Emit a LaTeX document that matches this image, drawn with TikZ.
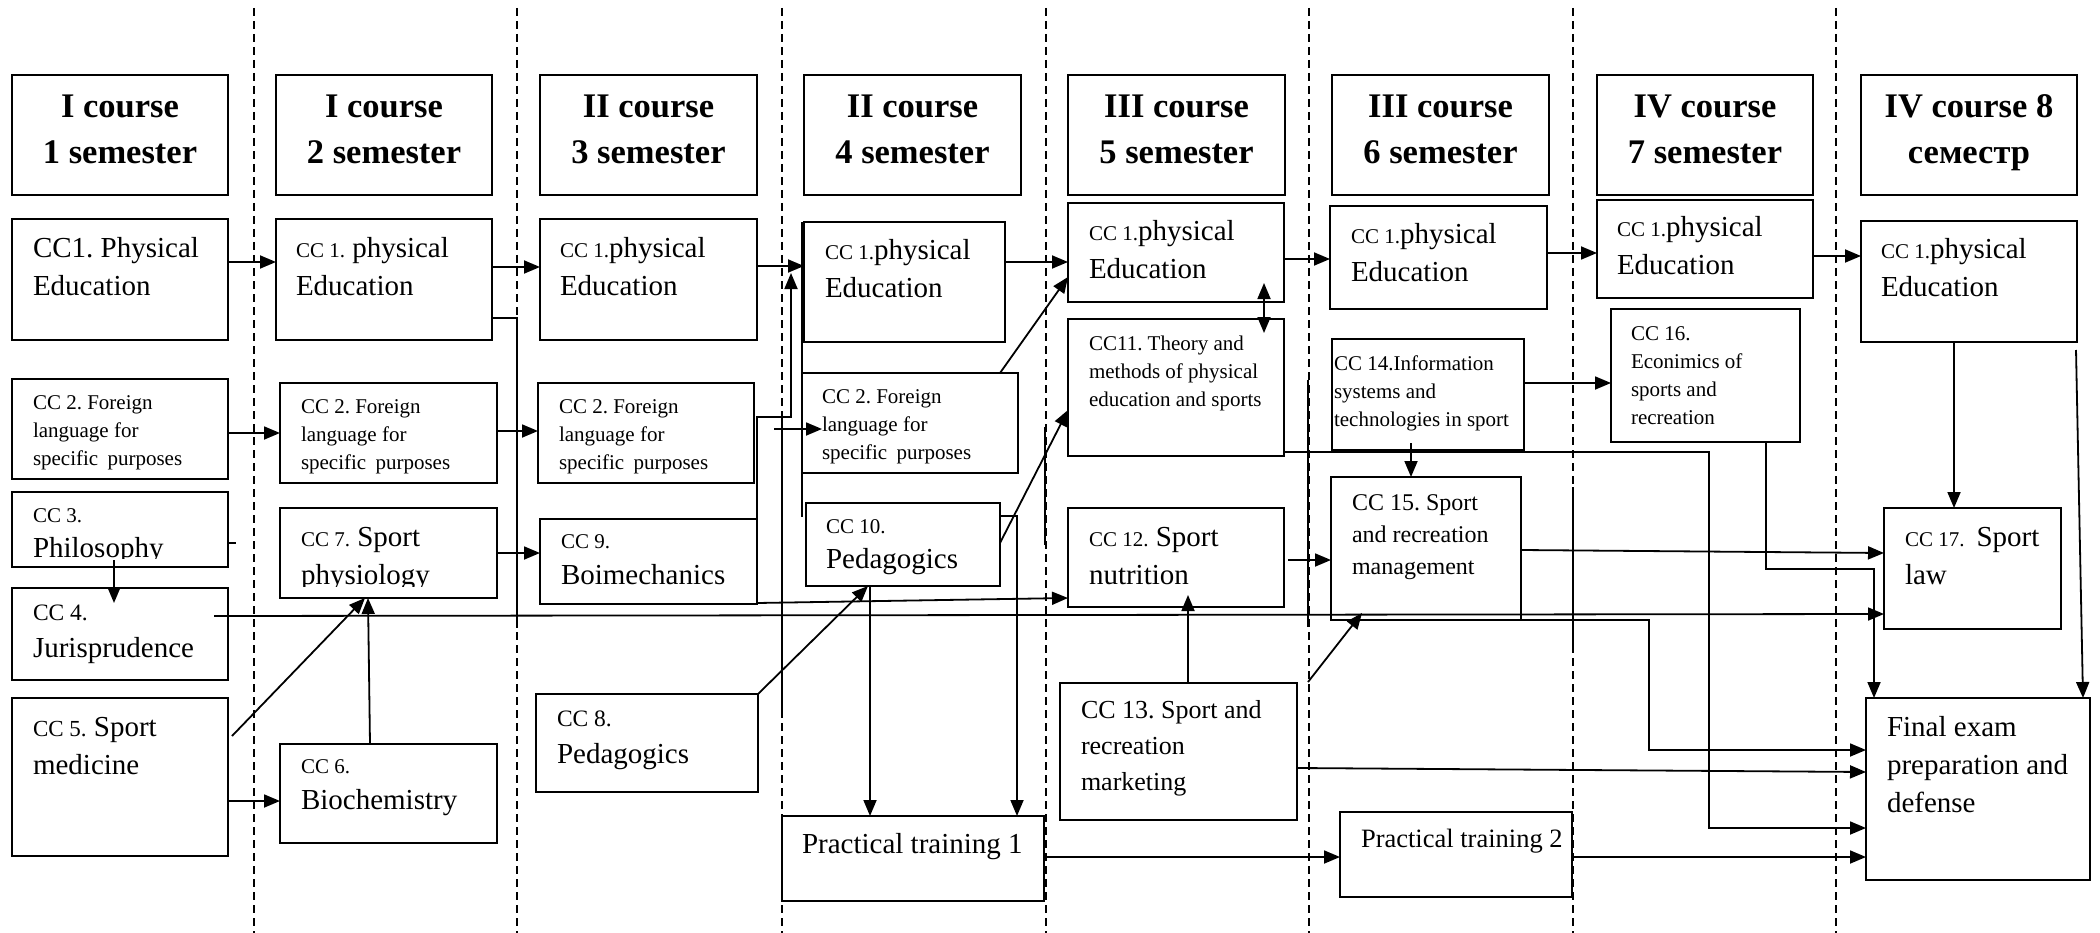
\documentclass[tikz,border=0pt]{standalone}
\usepackage{fontspec}
\setmainfont{Liberation Serif}
\usetikzlibrary{arrows.meta,calc}
\frenchspacing
\newcommand\Bf{\fontsize{29}{38}\selectfont}
\newcommand\Sf{\fontsize{21}{28}\selectfont}
\newcommand\Hf{\fontsize{34.5}{46}\selectfont\bfseries}
\newcommand\topstrut{\rule{0pt}{25pt}}
\newcommand\nodepth[1]{\raisebox{0pt}[\height][0pt]{#1}}
% box: name, x1, y1, x2, y2
\newcommand\bx[5]{\node[box, minimum width={(#4)-(#2)}, minimum height={(#5)-(#3)}] (#1) at ({((#2)+(#4))/2},{((#3)+(#5))/2}) {};}
% text: box name, inset, font, first baseline offset, text
\newcommand\tx[5]{\node[txt,font=#3] (#1t) at ($(#1.north west)+(#2,#4-25)$) {\topstrut #5};}
% header text
\newcommand\hd[3]{\node[font=\Hf,align=center,inner sep=0pt] (#1t) at ($(#1.center)+(0,-5.5)$) {#2\\\nodepth{#3}};}
\begin{document}
\frenchspacing
\begin{tikzpicture}[x=1pt,y=-1pt,
  box/.style={draw, line width=1.5pt, outer sep=0pt, inner sep=0pt},
  hbox/.style={box, line width=1.8pt},
  txt/.style={inner sep=0pt, outer sep=0pt, align=left, anchor=north west},
  con/.style={line width=1.8pt},
  arr/.style={line width=1.8pt, -{Triangle[length=16pt,width=13pt]}},
  dbl/.style={line width=1.8pt, {Triangle[length=16pt,width=13pt]}-{Triangle[length=16pt,width=13pt]}},
  sep/.style={line width=1.2pt, dash pattern=on 8pt off 5pt}]
\path[fill=white, use as bounding box] (0,0) rectangle (2100,933);

% column separators
\foreach \xx in {254,517,782,1046,1309,1573,1836} \draw[sep] (\xx,8) -- (\xx,933);

% headers
\node[hbox, minimum width=216, minimum height=120] (h1) at (120,135) {};
\node[hbox, minimum width=216, minimum height=120] (h2) at (384,135) {};
\node[hbox, minimum width=217, minimum height=120] (h3) at (648.5,135) {};
\node[hbox, minimum width=217, minimum height=120] (h4) at (912.5,135) {};
\node[hbox, minimum width=217, minimum height=120] (h5) at (1176.5,135) {};
\node[hbox, minimum width=217, minimum height=120] (h6) at (1440.5,135) {};
\node[hbox, minimum width=216, minimum height=120] (h7) at (1705,135) {};
\node[hbox, minimum width=216, minimum height=120] (h8) at (1969,135) {};
\hd{h1}{I course}{1 semester}
\hd{h2}{I course}{2 semester}
\hd{h3}{II course}{3 semester}
\hd{h4}{II course}{4 semester}
\hd{h5}{III course}{5 semester}
\hd{h6}{III course}{6 semester}
\hd{h7}{IV course}{7 semester}
\hd{h8}{IV course 8}{семестр}

% boxes
\bx{cc1}{12}{219}{228}{340}
\bx{cc2}{12}{379}{228}{479}
\bx{cc3}{12}{492}{228}{567}
\bx{cc4}{12}{588}{228}{680}
\bx{cc5}{12}{698}{228}{856}
\bx{cc1b}{276}{219}{492}{340}
\bx{cc2b}{280}{383}{497}{483}
\bx{cc7}{280}{508}{497}{598}
\bx{cc6}{280}{744}{497}{843}
\bx{cc1c}{540}{219}{757}{340}
\bx{cc2c}{538}{383}{754}{483}
\bx{cc9}{540}{519}{757}{604}
\bx{cc8}{536}{694}{758}{792}
\bx{cc1d}{804}{222}{1005}{342}
\bx{cc2d}{802}{373}{1018}{473}
\bx{cc10}{806}{503}{1000}{586}
\bx{pt1}{782}{816}{1044}{901}
\bx{cc1e}{1068}{203}{1284}{302}
\bx{cc11}{1068}{319}{1284}{456}
\bx{cc12}{1068}{508}{1284}{607}
\bx{cc13}{1060}{683}{1297}{820}
\bx{cc1f}{1330}{206}{1547}{309}
\bx{cc14}{1332}{339}{1524}{450}
\bx{cc15}{1331}{477}{1521}{620}
\bx{pt2}{1340}{812}{1572}{897}
\bx{cc1g}{1597}{200}{1813}{298}
\bx{cc16}{1611}{309}{1800}{442}
\bx{cc1h}{1861}{221}{2077}{342}
\bx{cc17}{1884}{508}{2061}{629}
\bx{final}{1866}{698}{2090}{880}

% texts
\tx{cc1}{21}{\Bf}{38}{CC1. Physical\\Education}
\tx{cc2}{21}{\Sf}{30}{CC 2. Foreign\\language for\\specific\hspace{4pt} purposes}
\begin{scope}
\clip (12,492) rectangle (228,558);
\tx{cc3}{21}{\fontsize{21}{35}\selectfont}{30}{CC 3.\\{\Bf Philosophy}}
\end{scope}
\tx{cc4}{21}{\fontsize{23.5}{37}\selectfont}{32}{CC 4.\\{\Bf Jurisprudence}}
\tx{cc5}{21}{\Bf}{38}{{\fontsize{23}{38}\selectfont CC 5.} Sport\\medicine}
\tx{cc1b}{20}{\Bf}{38}{{\Sf CC 1.} physical\\Education}
\tx{cc2b}{21}{\Sf}{30}{CC 2. Foreign\\language for\\specific\hspace{4pt} purposes}
\begin{scope}
\clip (280,508) rectangle (497,586);
\tx{cc7}{21}{\Bf}{38}{{\Sf CC 7.} Sport\\physiology}
\end{scope}
\tx{cc6}{21}{\fontsize{21}{36}\selectfont}{29}{CC 6.\\{\Bf Biochemistry}}
\tx{cc1c}{20}{\Bf}{38}{{\Sf CC 1.}physical\\Education}
\tx{cc2c}{21}{\Sf}{30}{CC 2. Foreign\\language for\\specific\hspace{4pt} purposes}
\tx{cc9}{21}{\fontsize{21}{36}\selectfont}{29}{CC 9.\\{\Bf Boimechanics}}
\tx{cc8}{21}{\fontsize{23.5}{37}\selectfont}{32}{CC 8.\\{\Bf Pedagogics}}
\tx{cc1d}{21}{\Bf}{37}{{\Sf CC 1.}physical\\Education}
\tx{cc2d}{20}{\Sf}{30}{CC 2. Foreign\\language for\\specific\hspace{4pt} purposes}
\tx{cc10}{20}{\fontsize{21}{35}\selectfont}{30}{CC 10.\\{\Bf Pedagogics}}
\tx{pt1}{20}{\Bf}{37}{Practical training 1}
\tx{cc1e}{21}{\Bf}{37}{{\Sf CC 1.}physical\\Education}
\tx{cc11}{21}{\Sf}{31}{CC11. Theory and\\methods of physical\\education and sports}
\tx{cc12}{21}{\Bf}{38}{{\Sf CC 12.} Sport\\nutrition}
\tx{cc13}{21}{\fontsize{26}{36}\selectfont}{35}{CC 13. Sport and\\recreation\\marketing}
\tx{cc1f}{21}{\Bf}{37}{{\Sf CC 1.}physical\\Education}
\tx{cc14}{2}{\Sf}{31}{CC 14.Information\\systems and\\technologies in sport}
\tx{cc15}{21}{\fontsize{24}{32}\selectfont}{33}{CC 15. Sport\\and recreation\\management}
\tx{pt2}{21}{\fontsize{26.5}{36}\selectfont}{35}{Practical training 2}
\tx{cc1g}{20}{\Bf}{37}{{\Sf CC 1.}physical\\Education}
\tx{cc16}{20}{\Sf}{31}{CC 16.\\Econimics of\\sports and\\recreation}
\tx{cc1h}{20}{\Bf}{37}{{\Sf CC 1.}physical\\Education}
\tx{cc17}{21}{\Bf}{38}{{\Sf CC 17.}\hspace{12pt}Sport\\law}
\tx{final}{21}{\Bf}{38}{Final exam\\preparation and\\defense}

% solid pieces over the separators
\draw[con] (782,417) -- (782,710);
\draw[con] (1045,427) -- (1045,545);
\draw[con] (1308,380) -- (1308,627);
\draw[con] (1573,487) -- (1573,653);

% connectors
\draw[arr] (cc1.east|-0,262) -- (cc1b.west|-0,262);
\draw[arr] (cc1b.east|-0,267) -- (cc1c.west|-0,267);
\draw[arr] (cc1c.east|-0,266) -- (cc1d.west|-0,266);
\draw[arr] (cc1d.east|-0,262) -- (cc1e.west|-0,262);
\draw[arr] (cc1e.east|-0,259) -- (cc1f.west|-0,259);
\draw[arr] (cc1f.east|-0,253) -- (cc1g.west|-0,253);
\draw[arr] (cc1g.east|-0,256) -- (cc1h.west|-0,256);
\draw[arr] (cc2.east|-0,433) -- (cc2b.west|-0,433);
\draw[arr] (cc2b.east|-0,431) -- (cc2c.west|-0,431);
\coordinate (f10) at (774,429);
\draw[arr] (f10) -- ($(cc2d.west|-0,429)+(20,0)$);
\coordinate (f11) at (791,273);
\draw[arr] (cc9.east|-0,560) |- (791,417) -- (f11);
\draw[con] (cc1d.north west -| 802,0) -- (cc10.north west -| 802,0) -- ++(0,14);
\draw[arr] (cc2d.north -| 1000,0) -- (cc1e.west|-0,277);
\draw[arr] (cc10.east|-0,543) -- (cc11.west|-0,410);
\draw[arr] (cc10.east|-0,516) -| (pt1.north -| 1017,0);
\draw[arr] (cc10.south -| 870,0) -- (pt1.north -| 870,0);
\draw[arr] (cc8.north east) -- (cc10.south -| 868,0);
\draw[arr] (cc9.east|-0,603) -- (cc12.west|-0,598);
\draw[arr] ($(cc4.east|-0,616)+(-14,0)$) -- (cc17.west|-0,614);
\draw[arr] ($(cc3.south -| 114,0)+(0,-7)$) -- ($(cc4.north -| 114,0)+(0,15)$);
\draw[con] (cc3.east|-0,543) -- ++(8,0);
\draw[arr] ($(cc5.north east)+(4,38)$) -- (cc7.south -| 365,0);
\draw[arr] (cc6.north -| 370,0) -- (cc7.south -| 368,0);
\draw[arr] (cc5.east|-0,801) -- (cc6.west|-0,801);
\draw[arr] (cc7.east|-0,553) -- (cc9.west|-0,553);
\draw[con] (cc1b.east|-0,318) -| (517,628);
\draw[dbl] ($(cc1e.south -| 1264,0)+(0,-19)$) -- ($(cc11.north -| 1264,0)+(0,14)$);
\draw[arr] (cc11.east|-0,452) -| (1709,828) -- (final.west|-0,828);
\draw[arr] (cc14.east|-0,383) -- (cc16.west|-0,383);
\draw[arr] ($(cc14.south -| 1411,0)+(0,-7)$) -- (cc15.north -| 1411,0);
\draw[arr] (cc16.south -| 1766,0) |- (1874,569) -- (final.north -| 1874,0);
\draw[arr] (cc1h.south -| 1954,0) -- (cc17.north -| 1954,0);
\draw[arr] ($(cc1h.south -| 2076,0)+(0,8)$) -- (final.north -| 2083,0);
\draw[arr] (cc15.east|-0,550) -- (cc17.west|-0,553);
\draw[arr] (cc15.south -| 1433,0) -| (1649,750) -- (final.west|-0,750);
\draw[arr] (cc13.east|-0,768) -- (final.west|-0,772);
\draw[arr] (pt2.east|-0,857) -- (final.west|-0,857);
\draw[arr] (pt1.east|-0,857) -- (pt2.west|-0,857);
\draw[arr] ($(cc12.east|-0,560)+(4,0)$) -- (cc15.west|-0,560);
\draw[arr] (cc13.north -| 1188,0) -- ($(cc12.south -| 1188,0)+(0,-12)$);
\draw[arr] ($(cc13.north east)+(11,-1)$) -- ($(cc15.south -| 1362,0)+(0,-7)$);
\end{tikzpicture}
\end{document}
